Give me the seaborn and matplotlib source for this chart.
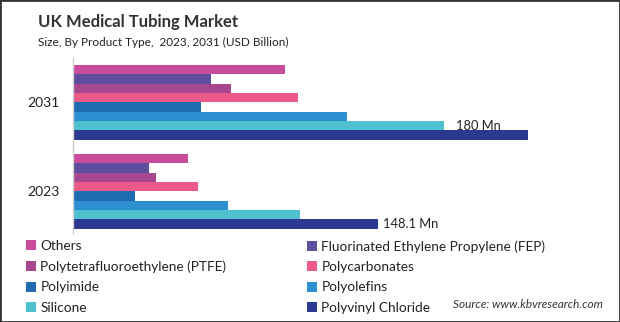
import matplotlib
matplotlib.use("Agg")
import matplotlib.pyplot as plt
import matplotlib.patches as mpatches
import seaborn as sns
import pandas as pd

years = ["2031", "2023"]
types = ["Others", "Fluorinated Ethylene Propylene (FEP)", "Polytetrafluoroethylene (PTFE)",
         "Polycarbonates", "Polyimide", "Polyolefins", "Silicone", "Polyvinyl Chloride"]
values_2031 = [103.1, 67.2, 76.8, 109.4, 62.2, 133.2, 180.0, 220.8]
values_2023 = [55.9, 37.0, 40.5, 60.8, 30.1, 75.4, 110.3, 148.1]
colors = ["#C94B9B", "#5E4E9E", "#A6478F", "#EC5A8A", "#1F6DB0", "#2B8FD0", "#4EC0CE", "#2B3990"]
label_2031 = {"Silicone": "180 Mn"}
label_2023 = {"Polyvinyl Chloride": "148.1 Mn"}

rows = []
for t, v in zip(types, values_2031):
    rows.append({"Year": "2031", "Type": t, "Value": v})
for t, v in zip(types, values_2023):
    rows.append({"Year": "2023", "Type": t, "Value": v})
df = pd.DataFrame(rows)

sns.set_theme(style="white")
plt.rcParams["font.family"] = ["Lato", "DejaVu Sans"]

fig = plt.figure(figsize=(6.2, 3.22), dpi=100)
ax = fig.add_axes([73 / 620, 1 - 234 / 322, (600 - 73) / 620, 176 / 322])

sns.barplot(data=df, y="Year", x="Value", hue="Type", order=years, hue_order=types,
            palette=colors, orient="h", width=0.84, ax=ax, legend=False, saturation=1,
            linewidth=0, edgecolor="none")

for cont, t in zip(ax.containers, types):
    labs = [label_2031.get(t, ""), label_2023.get(t, "")]
    pad = 9 if t == "Silicone" else 3.5
    ax.bar_label(cont, labels=labs, padding=pad, fontsize=9.3, color="#222222")

ax.set_xlim(0, 256)
ax.set_ylim(1.48, -0.5)
ax.set_xlabel("")
ax.set_ylabel("")
ax.set_xticks([])
ax.tick_params(axis="y", length=0, pad=10, labelsize=10, labelcolor="#222222")
for s in ["top", "right", "bottom"]:
    ax.spines[s].set_visible(False)
ax.spines["left"].set_color("#D0D0D0")
ax.spines["left"].set_linewidth(1)

fig.text(38 / 620, 1 - 22 / 322, "UK Medical Tubing Market", fontsize=12, fontweight="bold",
         color="#333333", va="center", ha="left")
fig.text(38 / 620, 1 - 42 / 322, "Size, By Product Type,  2023, 2031 (USD Billion)", fontsize=8.5,
         color="#222222", va="center", ha="left")

handles = [mpatches.Patch(facecolor=c, edgecolor="none", label=t) for c, t in zip(colors, types)]
common = dict(frameon=False, fontsize=9.8, handlelength=0.75, handleheight=0.75, handletextpad=0.3,
              labelspacing=0.62, borderpad=0, borderaxespad=0, loc="upper left")
leg1 = fig.legend(handles=[handles[i] for i in (0, 2, 4, 6)], bbox_to_anchor=(26 / 620, 1 - 240 / 322), **common)
leg2 = fig.legend(handles=[handles[i] for i in (1, 3, 5, 7)], bbox_to_anchor=(307 / 620, 1 - 240 / 322), **common)
for leg in (leg1, leg2):
    for txt in leg.get_texts():
        txt.set_color("#222222")

fig.text(603 / 620, 1 - 304 / 322, "Source: www.kbvresearch.com", fontsize=8.5, style="italic",
         color="#333333", ha="right", va="center")

fig.patches.append(mpatches.Rectangle((0, 0), 1, 1, transform=fig.transFigure, fill=False,
                                      edgecolor="#333333", linewidth=2, zorder=10))

fig.savefig("out.png", dpi=100)
